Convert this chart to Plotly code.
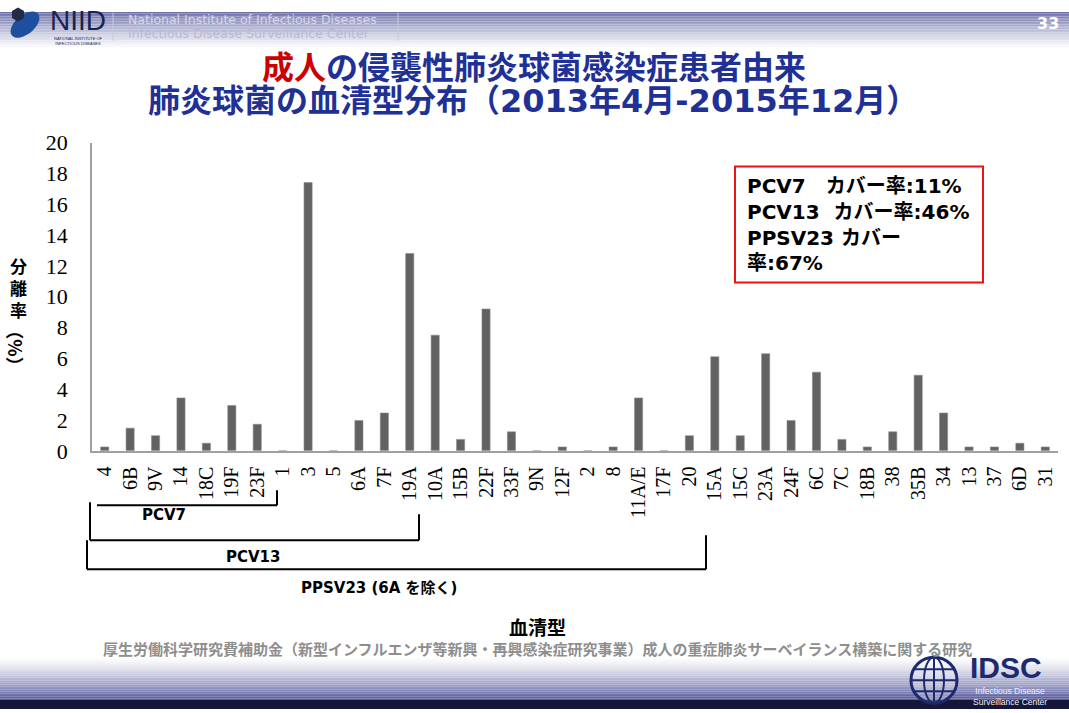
import numpy as np
import plotly.graph_objects as go

# Serotype distribution of invasive pneumococcal isolates from adults (%)
serotypes = ["4", "6B", "9V", "14", "18C", "19F", "23F", "1", "3", "5", "6A", "7F",
             "19A", "10A", "15B", "22F", "33F", "9N", "12F", "2", "8", "11A/E", "17F",
             "20", "15A", "15C", "23A", "24F", "6C", "7C", "18B", "38", "35B", "34",
             "13", "37", "6D", "31"]
rate_pct = [0.25, 1.47, 0.98, 3.43, 0.49, 2.94, 1.72, 0.0, 17.4, 0.0, 1.96, 2.45,
            12.8, 7.5, 0.74, 9.2, 1.23, 0.0, 0.25, 0.0, 0.25, 3.43, 0.0,
            0.98, 6.1, 0.98, 6.3, 1.96, 5.1, 0.74, 0.25, 1.23, 4.9, 2.45,
            0.25, 0.25, 0.49, 0.25]
y_ticks = [0, 2, 4, 6, 8, 10, 12, 14, 16, 18, 20]
coverage_lines = ["PCV7　カバー率:11%", "PCV13  カバー率:46%", "PPSV23 カバー", "率:67%"]

W, H = 1069, 713
# vertical placement of the slide frame on the page
TOP, SCALE = 11.4, 0.9656


def px(x):
    return x / W


def py(y):
    return 1 - ((y - TOP) / SCALE) / H


NAVY = (44, 47, 132)
TITLE_BLUE = "#1F3196"
JP_BOLD = "Noto Sans CJK JP"
SERIF = "Liberation Serif"
SANS_BOLD = "DejaVu Sans, Noto Sans CJK JP"

fig = go.Figure()
fig.add_trace(go.Bar(
    x=serotypes, y=rate_pct,
    marker=dict(color="#626262", line=dict(color="#8a8a8a", width=0.6)),
    width=0.32, hoverinfo="x+y",
))

shapes = []
annotations = []


def label(text, x, y, size, color="black", family=JP_BOLD, xanchor="center", **kw):
    annotations.append(dict(x=px(x), y=py(y), xref="paper", yref="paper", text=text,
                            showarrow=False, xanchor=xanchor, yanchor="middle",
                            font=dict(family=family, size=size, color=color), **kw))


def band(y_top, y_bot, mix_of_t):
    n = 30
    for i in range(n):
        mix = mix_of_t(i / (n - 1))
        c = tuple(int(NAVY[k] + (255 - NAVY[k]) * mix) for k in range(3))
        y0 = y_top + (y_bot - y_top) * i / n
        y1 = y_top + (y_bot - y_top) * (i + 1) / n
        shapes.append(dict(type="rect", xref="paper", yref="paper", x0=0, x1=1,
                           y0=min(1, py(y1)), y1=min(1.0, py(y0)),
                           fillcolor="rgb(%d,%d,%d)" % c, line=dict(width=0), layer="below"))


# Header and footer gradient bands
band(0, 48, lambda t: t ** 0.8)
band(656, 709, lambda t: 1 - t ** 1.3)
shapes.append(dict(type="rect", xref="paper", yref="paper", x0=0, x1=1,
                   y0=max(0, py(713)), y1=py(709), fillcolor="#15163a",
                   line=dict(width=0), layer="below"))

# NIID emblem: tilted capsule with a dark hexagon
ang = np.deg2rad(-40)
th = np.linspace(0, 2 * np.pi, 60)
ex, ey = 17 * np.cos(th), 9.5 * np.sin(th)
cx, cy = 25, 24
xs = cx + ex * np.cos(ang) - ey * np.sin(ang)
ys = cy + ex * np.sin(ang) + ey * np.cos(ang)
path = "M " + " L ".join("%.4f,%.4f" % (px(a), py(b)) for a, b in zip(xs, ys)) + " Z"
shapes.append(dict(type="path", xref="paper", yref="paper", path=path,
                   fillcolor="#1d4f9e", line=dict(width=0)))
hx = 18 + 7 * np.cos(np.linspace(0, 2 * np.pi, 7) + np.pi / 6)
hy = 14 + 7 * np.sin(np.linspace(0, 2 * np.pi, 7) + np.pi / 6)
path = "M " + " L ".join("%.4f,%.4f" % (px(a), py(b)) for a, b in zip(hx, hy)) + " Z"
shapes.append(dict(type="path", xref="paper", yref="paper", path=path,
                   fillcolor="#222a48", line=dict(width=0)))
label("NIID", 78, 20, 28, "#1b2350", "Liberation Sans Narrow, Liberation Sans")
label("NATIONAL INSTITUTE OF<br>INFECTIOUS DISEASES", 78, 40, 4, "#1b2350", "Liberation Sans")
for xv in (113, 398):
    shapes.append(dict(type="line", xref="paper", yref="paper", x0=px(xv), x1=px(xv),
                       y0=py(12), y1=py(40), line=dict(color="#c8c9dc", width=1)))
label("National Institute of Infectious Diseases", 126, 19, 12.5, "#d6d7e6", "DejaVu Sans",
      xanchor="left")
label("Infectious Disease Surveillance Center", 126, 33, 12.5, "#b8bad4", "DejaVu Sans",
      xanchor="left")
# page number sits against the top edge
annotations.append(dict(x=px(1048), y=1, xref="paper", yref="paper", text="<b>33</b>",
                        showarrow=False, xanchor="center", yanchor="top",
                        font=dict(family="DejaVu Sans", size=16, color="white")))

# Title
label("<b><span style='color:#CC0000'>成人</span>の侵襲性肺炎球菌感染症患者由来</b>",
      534, 64, 32, TITLE_BLUE)
label("<b>肺炎球菌の血清型分布（2013年4月-2015年12月）</b>", 533, 100, 32, TITLE_BLUE,
      family="DejaVu Sans, Noto Sans CJK JP")

# Y axis title: stacked characters then rotated (%)
label("<b>分<br>離<br>率</b>", 18, 287, 17)
label("<b>（%）</b>", 16, 347, 18, textangle=90)

# Coverage box
shapes.append(dict(type="rect", xref="paper", yref="paper", x0=px(735), x1=px(983),
                   y0=py(282), y1=py(166), line=dict(color="#ee1111", width=2),
                   fillcolor="white"))
for line, yv in zip(coverage_lines, (186, 212, 238, 263)):
    label("<b>%s</b>" % line, 745, yv, 20, family=SANS_BOLD, xanchor="left")


# Vaccine coverage brackets
def seg(x0, y0, x1, y1):
    shapes.append(dict(type="line", xref="paper", yref="paper", x0=px(x0), y0=py(y0),
                       x1=px(x1), y1=py(y1), line=dict(color="black", width=2)))


seg(97, 505, 277, 505)
seg(277, 490, 277, 505)
seg(90, 502, 90, 540)
seg(90, 540, 419, 540)
seg(419, 514, 419, 540)
seg(87, 540, 87, 569)
seg(87, 569, 706, 569)
seg(706, 535, 706, 569)
for txt, xv, yv in (("PCV7", 164, 515), ("PCV13", 253, 557), ("PPSV23 (6A を除く)", 379, 588)):
    label("<b>%s</b>" % txt, xv, yv, 15, family=SANS_BOLD)

# X axis title and funding note
label("<b>血清型</b>", 537, 626, 19)
label("<b>厚生労働科学研究費補助金（新型インフルエンザ等新興・再興感染症研究事業）成人の重症肺炎サーベイランス構築に関する研究</b>",
      537, 648, 15, "#8e8e8e")

# IDSC emblem: globe with meridians
gx, gy, gr = 934, 680, 23
shapes.append(dict(type="circle", xref="paper", yref="paper", x0=px(gx - gr), x1=px(gx + gr),
                   y0=py(gy + gr), y1=py(gy - gr), line=dict(color="#1e2a6e", width=3),
                   fillcolor="rgba(255,255,255,0.3)"))
shapes.append(dict(type="circle", xref="paper", yref="paper", x0=px(gx - 10), x1=px(gx + 10),
                   y0=py(gy + gr), y1=py(gy - gr), line=dict(color="#1e2a6e", width=2)))
shapes.append(dict(type="line", xref="paper", yref="paper", x0=px(gx), x1=px(gx),
                   y0=py(gy + gr), y1=py(gy - gr), line=dict(color="#1e2a6e", width=2)))
for dy in (-11, 0, 11):
    half = np.sqrt(gr ** 2 - dy ** 2)
    shapes.append(dict(type="line", xref="paper", yref="paper", x0=px(gx - half), x1=px(gx + half),
                       y0=py(gy + dy), y1=py(gy + dy), line=dict(color="#1e2a6e", width=2)))
label("<b>IDSC</b>", 1006, 667, 30, "#1e2a6e", "Liberation Sans")
label("Infectious Disease<br>Surveillance Center", 1010, 696, 8.5, "#eeeef8",
      "Liberation Sans Narrow, Liberation Sans")

fig.update_layout(
    width=W, height=H,
    margin=dict(l=0, r=0, t=0, b=0),
    paper_bgcolor="white", plot_bgcolor="rgba(0,0,0,0)",
    showlegend=False,
    shapes=shapes, annotations=annotations,
    xaxis=dict(domain=[px(92), px(1058)], type="category", range=[-0.5, len(serotypes) - 0.5],
               tickangle=-90, tickfont=dict(family=SERIF, size=20, color="black"),
               showline=True, linecolor="#a0a0a0", linewidth=1.5, ticks="",
               showgrid=False, zeroline=False, ticklabelstandoff=6),
    yaxis=dict(domain=[py(450.5), py(142)], range=[0, 20], tickvals=y_ticks,
               tickfont=dict(family=SERIF, size=22, color="black"),
               showline=True, linecolor="#a0a0a0", linewidth=1.5, ticks="",
               showgrid=False, zeroline=False, ticklabelstandoff=18),
)

fig.write_html("out.html")
